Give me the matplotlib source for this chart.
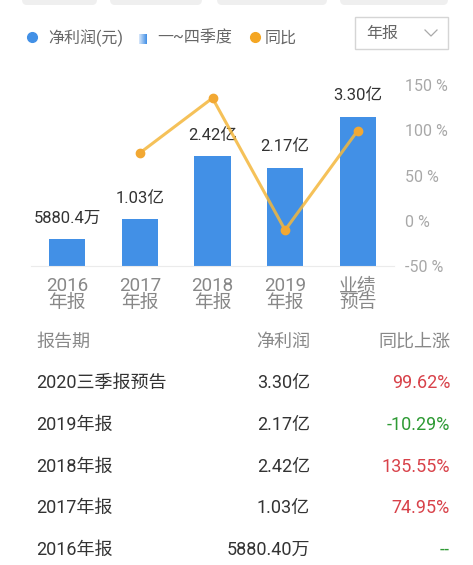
import numpy as np
import matplotlib.pyplot as plt
from matplotlib.patches import FancyBboxPatch, Rectangle
from matplotlib.lines import Line2D

plt.rcParams['font.family'] = ['Roboto', 'Noto Sans CJK SC', 'DejaVu Sans']

# data
periods = ['2016\n年报', '2017\n年报', '2018\n年报', '2019\n年报', '业绩\n预告']
profit = [0.58804, 1.03, 2.42, 2.17, 3.30]          # 亿元
profit_labels = ['5880.4万', '1.03亿', '2.42亿', '2.17亿', '3.30亿']
yoy = [np.nan, 74.95, 135.55, -10.29, 99.62]         # %
yoy_ticks = [-50, 0, 50, 100, 150]

table_period = ['2020三季报预告', '2019年报', '2018年报', '2017年报', '2016年报']
table_profit = ['3.30亿', '2.17亿', '2.42亿', '1.03亿', '5880.40万']
table_yoy = ['99.62%', '-10.29%', '135.55%', '74.95%', '--']

W, H = 473, 565
BLUE = '#4290E6'
RED = '#D8424A'
GREEN = '#2E9A34'

fig = plt.figure(figsize=(W / 100, H / 100), dpi=100)


def fx(x):
    return x / W


def fy(y):
    return 1 - y / H


# top grey tabs (partially visible)
for x0, x1 in [(22, 97), (110, 202), (217, 327), (340, 448)]:
    fig.patches.append(FancyBboxPatch((fx(x0), fy(5)), fx(x1 - x0), 15 / H,
                                      boxstyle='round,pad=0,rounding_size=0.01',
                                      transform=fig.transFigure, fc='#EFEFEF', ec='none'))

# legend
fig.add_artist(Line2D([fx(32)], [fy(37)], marker='o', ms=7, color=BLUE, transform=fig.transFigure))
fig.text(fx(48), fy(38), '净利润(元)', fontsize=11.5, color='#666666', va='center')
gax = fig.add_axes([fx(139), fy(44), fx(8), 10 / H])
gax.imshow(np.linspace(0, 1, 20).reshape(1, -1), cmap=plt.matplotlib.colors.LinearSegmentedColormap.from_list('g', ['#D6E6FA', BLUE]),
           aspect='auto')
gax.axis('off')
fig.text(fx(157), fy(38), '一~四季度', fontsize=11.5, color='#666666', va='center')
fig.add_artist(Line2D([fx(255)], [fy(37)], marker='o', ms=7, color='#F4A623', transform=fig.transFigure))
fig.text(fx(265), fy(38), '同比', fontsize=11.5, color='#666666', va='center')

# dropdown box
fig.patches.append(Rectangle((fx(355), fy(49)), fx(93), 32 / H, transform=fig.transFigure,
                             fc='white', ec='#D5D5D5', lw=1))
fig.text(fx(366), fy(33), '年报', fontsize=11.5, color='#666666', va='center')
fig.add_artist(Line2D([fx(425), fx(431), fx(437)], [fy(30), fy(36), fy(30)], color='#AAAAAA',
                      lw=0.9, transform=fig.transFigure))

# chart
ax = fig.add_axes([fx(31), fy(266), fx(363), 181 / H])
x = np.arange(len(periods))
ax.bar(x, profit, width=0.5, color=BLUE, zorder=2)
for xi, v, lab in zip(x, profit, profit_labels):
    ax.annotate(lab, (xi, v), xytext=(0, 10), textcoords='offset points', ha='center', va='bottom',
                fontsize=12, color='#333333')
ax.set_xlim(-0.5, 4.5)
ax.set_ylim(0, 4.0)
ax.set_yticks([])
ax.set_xticks(x)
ax.set_xticklabels(periods, fontsize=13.5, color='#888888', linespacing=0.9)
ax.tick_params(axis='x', length=0, pad=8)
for s in ['top', 'right', 'left']:
    ax.spines[s].set_visible(False)
ax.spines['bottom'].set_color('#EBEBEB')
ax.patch.set_alpha(0)

ax2 = ax.twinx()
ax2.plot(x, yoy, color='#F4B73C', lw=2.2, alpha=0.85, zorder=3)
ax2.plot(x, yoy, 'o', color='#F2A833', ms=6, zorder=4)
ax2.set_ylim(-50, 150)
ax2.set_yticks(yoy_ticks)
ax2.set_yticklabels([f'{t} %' for t in yoy_ticks], fontsize=11.5, color='#A8A8A8')
ax2.tick_params(axis='y', length=0, pad=8)
for s in ax2.spines.values():
    s.set_visible(False)

# table
fig.text(fx(36), fy(342), '报告期', fontsize=13, color='#888888', va='center')
fig.text(fx(310), fy(342), '净利润', fontsize=13, color='#888888', va='center', ha='right')
fig.text(fx(450), fy(342), '同比上涨', fontsize=13, color='#888888', va='center', ha='right')
row_y = [383, 425, 467, 508, 550]
for yy, p, v, g in zip(row_y, table_period, table_profit, table_yoy):
    fig.text(fx(36), fy(yy), p, fontsize=13, color='#333333', va='center')
    fig.text(fx(310), fy(yy), v, fontsize=13, color='#333333', va='center', ha='right')
    c = GREEN if (g.startswith('-')) else RED
    fig.text(fx(450), fy(yy), g, fontsize=13, color=c, va='center', ha='right')

fig.savefig('out.png', dpi=100)
